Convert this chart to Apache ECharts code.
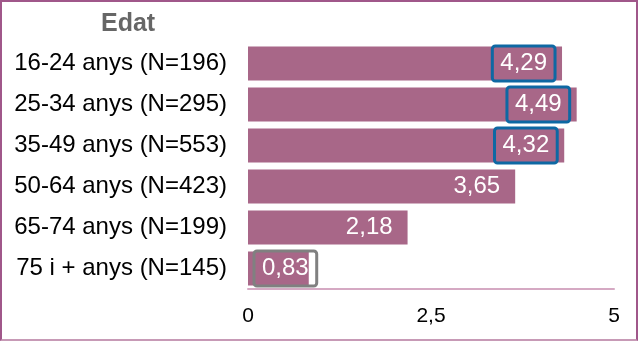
<!DOCTYPE html>
<html>
<head>
<meta charset="utf-8">
<script src="https://cdn.jsdelivr.net/npm/echarts@6/dist/echarts.min.js"></script>
<style>
html,body{margin:0;padding:0;background:#fff;}
#wrap{position:absolute;left:0;top:0;width:638px;height:341px;box-sizing:border-box;border:2px solid #A0578A;border-bottom-color:#C79AB6;}
#chart{width:634px;height:337px;}
</style>
</head>
<body>
<div id="wrap"><div id="chart"></div></div>
<script>
const titleText = "Edat";
const categories = ["16-24 anys (N=196)", "25-34 anys (N=295)", "35-49 anys (N=553)", "50-64 anys (N=423)", "65-74 anys (N=199)", "75 i + anys (N=145)"];
const values = [4.29, 4.49, 4.32, 3.65, 2.18, 0.83];
const highlight = ["blue", "blue", "blue", "none", "none", "gray"];
const axisMin = 0, axisMax = 5, axisInterval = 2.5;

const fmt = v => String(v).replace('.', ',');
const borderColors = {blue: "#0E68A3", gray: "#808080", none: "rgba(0,0,0,0)"};

const labelBase = {
  show: true,
  formatter: p => fmt(p.value),
  fontFamily: "Liberation Sans, Arial",
  fontSize: 24,
  lineHeight: 24,
  color: "#fff",
  padding: [6, 8, 5, 8],
  borderWidth: 3,
  borderRadius: 3
};

const data = values.map((v, i) => {
  const isLow = highlight[i] === "gray";
  return {
    value: v,
    label: Object.assign({}, labelBase, {
      position: isLow ? "insideLeft" : "insideRight",
      distance: isLow ? 6 : 7,
      borderColor: borderColors[highlight[i]]
    })
  };
});

const chart = echarts.init(document.getElementById('chart'), null, {renderer: 'canvas'});
chart.setOption({
  animation: false,
  title: {
    text: titleText, left: 94, top: 5,
    textStyle: {fontFamily: "Liberation Sans, Arial", fontSize: 25, fontWeight: "bold", color: "#666666"}
  },
  grid: {left: 246, right: 22, top: 41, bottom: 50, containLabel: false},
  xAxis: {
    type: "value", min: axisMin, max: axisMax, interval: axisInterval,
    splitLine: {show: false},
    axisLine: {show: true, onZero: false, lineStyle: {color: "#D5A9C3", width: 2}},
    axisTick: {show: false},
    axisLabel: {
      formatter: v => fmt(v), margin: 17,
      fontFamily: "Liberation Sans, Arial", fontSize: 21, color: "#000"
    }
  },
  yAxis: {
    type: "category", data: categories, inverse: true,
    axisLine: {show: false},
    axisTick: {show: false},
    axisLabel: {margin: 21, fontFamily: "Liberation Sans, Arial", fontSize: 24, color: "#000"}
  },
  series: [{
    type: "bar", data: data, barCategoryGap: "17%",
    itemStyle: {color: "#A86788"},
    label: labelBase
  }]
});
</script>
</body>
</html>
